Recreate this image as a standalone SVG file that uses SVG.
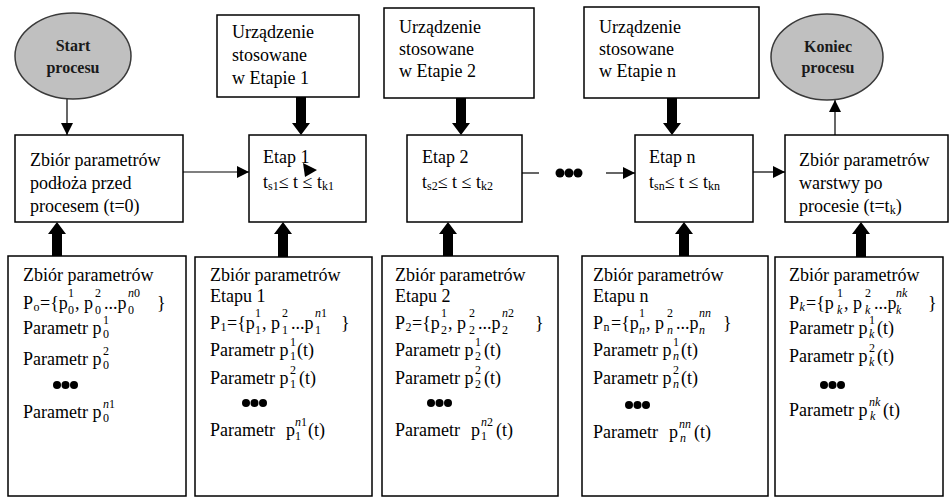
<svg xmlns="http://www.w3.org/2000/svg" width="949" height="497" viewBox="0 0 949 497" font-family="'Liberation Serif', 'DejaVu Serif', serif">
  <style>
    text { font-family: "Liberation Serif", "DejaVu Serif", serif; font-size: 18px; fill: #000; }
    .s { font-size: 12px; }
    .i { font-style: italic; }
    .b { font-weight: bold; font-size: 16px; text-anchor: middle; fill: #1a1a1a; }
    .box { fill: #fff; stroke: #000; stroke-width: 1.5; }
    .oval { fill: #c0c0c0; stroke: #3a3a3a; stroke-width: 1.5; }
    .thin { fill: none; stroke: #000; stroke-width: 1.2; }
    .thick { fill: #000; }
    .dot { fill: #000; }
  </style>
  <defs>
    <marker id="ah" viewBox="0 0 12 12" refX="12" refY="6" markerWidth="12" markerHeight="12" orient="auto" markerUnits="userSpaceOnUse">
      <path d="M0,0 L12,6 L0,12 z" fill="#000"/>
    </marker>
  </defs>

  <rect width="949" height="497" fill="#fff"/>

  <!-- connectors -->
  <g id="connectors">
    <!-- thin flow arrows -->
    <line class="thin" x1="67" y1="99" x2="67" y2="135" marker-end="url(#ah)"/>
    <line class="thin" x1="183" y1="172" x2="249" y2="172" marker-end="url(#ah)"/>
    <line class="thin" x1="522" y1="173" x2="539" y2="173"/>
    <line class="thin" x1="606" y1="173" x2="635" y2="173" marker-end="url(#ah)"/>
    <line class="thin" x1="753" y1="172" x2="785" y2="172" marker-end="url(#ah)"/>
    <line class="thin" x1="835" y1="135" x2="835" y2="100" marker-end="url(#ah)"/>
    <!-- ellipsis between stage 2 and stage n -->
    <circle class="dot" cx="560" cy="173" r="4.5"/>
    <circle class="dot" cx="569" cy="173" r="4.5"/>
    <circle class="dot" cx="578" cy="173" r="4.5"/>
    <!-- thick arrows: equipment -> stage -->
    <path class="thick" d="M296,97 H306 V123 H310 L301,135 L292,123 H296 Z"/>
    <path class="thick" d="M456,98 H466 V123 H470 L461,135 L452,123 H456 Z"/>
    <path class="thick" d="M667,98 H677 V123 H681 L672,135 L663,123 H667 Z"/>
    <!-- thick arrows: parameter sets -> stage -->
    <path class="thick" d="M52,256 H62 V234 H66 L57,222 L48,234 H52 Z"/>
    <path class="thick" d="M278,257 H288 V234 H292 L283,222 L274,234 H278 Z"/>
    <path class="thick" d="M443,256 H453 V234 H457 L448,222 L439,234 H443 Z"/>
    <path class="thick" d="M679,256 H689 V234 H693 L684,222 L675,234 H679 Z"/>
    <path class="thick" d="M856,257 H866 V234 H870 L861,222 L852,234 H856 Z"/>
  </g>

  <!-- start / end -->
  <g id="start">
    <ellipse class="oval" cx="73" cy="56" rx="58" ry="43"/>
    <text class="b" x="73" y="51">Start</text>
    <text class="b" x="73" y="73">procesu</text>
  </g>
  <g id="end">
    <ellipse class="oval" cx="827" cy="57" rx="56" ry="43"/>
    <text class="b" x="828" y="52">Koniec</text>
    <text class="b" x="828" y="73">procesu</text>
  </g>

  <!-- initial substrate parameters -->
  <g id="substrate">
    <rect class="box" x="15" y="135" width="168" height="87"/>
    <text x="30" y="166">Zbiór parametrów</text>
    <text x="30" y="189">podłoża przed</text>
    <text x="30" y="212">procesem (t=0)</text>
  </g>

  <!-- equipment boxes -->
  <g id="device1">
    <rect class="box" x="217" y="15" width="142" height="82"/>
    <text x="232" y="38">Urządzenie</text>
    <text x="232" y="61">stosowane</text>
    <text x="232" y="84">w Etapie 1</text>
  </g>
  <g id="device2">
    <rect class="box" x="384" y="8" width="150" height="90"/>
    <text x="399" y="33">Urządzenie</text>
    <text x="399" y="55">stosowane</text>
    <text x="399" y="77">w Etapie 2</text>
  </g>
  <g id="deviceN">
    <rect class="box" x="584" y="7" width="175" height="91"/>
    <text x="599" y="33">Urządzenie</text>
    <text x="599" y="55">stosowane</text>
    <text x="599" y="77">w Etapie n</text>
  </g>

  <!-- stages -->
  <g id="stage1">
    <rect class="box" x="249" y="135" width="117" height="87"/>
    <text x="263" y="163">Etap 1</text>
    <text x="263" y="188">t<tspan class="s" dy="2">s1</tspan><tspan dy="-2">≤ t ≤ t</tspan><tspan class="s" dy="2">k1</tspan></text>
    <path d="M303,163 L317,170 L305,177 Z" fill="#000"/>
  </g>
  <g id="stage2">
    <rect class="box" x="407" y="135" width="115" height="87"/>
    <text x="422" y="163">Etap 2</text>
    <text x="422" y="188">t<tspan class="s" dy="2">s2</tspan><tspan dy="-2">≤ t ≤ t</tspan><tspan class="s" dy="2">k2</tspan></text>
  </g>
  <g id="stageN">
    <rect class="box" x="635" y="135" width="118" height="87"/>
    <text x="649" y="163">Etap n</text>
    <text x="649" y="188">t<tspan class="s" dy="2">sn</tspan><tspan dy="-2">≤ t ≤ t</tspan><tspan class="s" dy="2">kn</tspan></text>
  </g>

  <!-- final layer parameters -->
  <g id="layer">
    <rect class="box" x="785" y="135" width="163" height="87"/>
    <text x="799" y="166">Zbiór parametrów</text>
    <text x="799" y="189">warstwy po</text>
    <text x="799" y="212">procesie (t=t<tspan class="s" dy="2">k</tspan><tspan dy="-2">)</tspan></text>
  </g>

  <!-- parameter set: substrate -->
  <g id="params0">
    <rect class="box" x="8" y="256" width="178" height="240"/>
    <text x="23" y="281">Zbiór parametrów</text>
    <text><tspan x="23" y="309">P</tspan><tspan class="s" x="33.5" y="311">o</tspan><tspan x="40" y="309">={p</tspan><tspan class="s" x="68" y="297">1</tspan><tspan class="s" x="68" y="314">0</tspan><tspan x="75" y="309">, p</tspan><tspan class="s" x="95" y="297">2</tspan><tspan class="s" x="95" y="314">0</tspan><tspan x="104" y="309">...p</tspan><tspan class="s i" x="128" y="297">n</tspan><tspan class="s" x="134" y="297">0</tspan><tspan class="s" x="128" y="314">0</tspan><tspan x="157" y="309">}</tspan></text>
    <text><tspan x="23" y="334">Parametr p</tspan><tspan class="s" x="103" y="324">1</tspan><tspan class="s" x="103" y="338">0</tspan></text>
    <text><tspan x="23" y="365">Parametr p</tspan><tspan class="s" x="103" y="355">2</tspan><tspan class="s" x="103" y="369">0</tspan></text>
    <circle class="dot" cx="57" cy="385" r="4"/><circle class="dot" cx="65.5" cy="385" r="4"/><circle class="dot" cx="74" cy="385" r="4"/>
    <text><tspan x="23" y="418">Parametr p</tspan><tspan class="s i" x="103" y="408">n</tspan><tspan class="s" x="109" y="408">1</tspan><tspan class="s" x="103" y="422">0</tspan></text>
  </g>

  <!-- parameter set: stage 1 -->
  <g id="params1">
    <rect class="box" x="195" y="257" width="177" height="239"/>
    <text x="210" y="281">Zbiór parametrów</text>
    <text x="210" y="302">Etapu 1</text>
    <text><tspan x="210" y="329">P</tspan><tspan class="s" x="220.5" y="331">1</tspan><tspan x="227" y="329">={p</tspan><tspan class="s" x="255" y="317">1</tspan><tspan class="s" x="255" y="334">1</tspan><tspan x="262" y="329">, p</tspan><tspan class="s" x="282" y="317">2</tspan><tspan class="s" x="282" y="334">1</tspan><tspan x="291" y="329">...p</tspan><tspan class="s i" x="315" y="317">n</tspan><tspan class="s" x="321" y="317">1</tspan><tspan class="s" x="315" y="334">1</tspan><tspan x="341" y="329">}</tspan></text>
    <text><tspan x="210" y="356">Parametr p</tspan><tspan class="s" x="290" y="346">1</tspan><tspan class="s" x="290" y="360">1</tspan><tspan x="297" y="356">(t)</tspan></text>
    <text><tspan x="210" y="384">Parametr p</tspan><tspan class="s" x="290" y="374">2</tspan><tspan class="s" x="290" y="388">1</tspan><tspan x="299" y="384">(t)</tspan></text>
    <circle class="dot" cx="246" cy="403" r="4"/><circle class="dot" cx="254.5" cy="403" r="4"/><circle class="dot" cx="263" cy="403" r="4"/>
    <text><tspan x="210" y="436">Parametr</tspan><tspan x="286" y="436">p</tspan><tspan class="s i" x="295" y="426">n</tspan><tspan class="s" x="301" y="426">1</tspan><tspan class="s" x="295" y="440">1</tspan><tspan x="308" y="436">(t)</tspan></text>
  </g>

  <!-- parameter set: stage 2 -->
  <g id="params2">
    <rect class="box" x="382" y="256" width="176" height="240"/>
    <text x="395" y="281">Zbiór parametrów</text>
    <text x="395" y="302">Etapu 2</text>
    <text><tspan x="395" y="329">P</tspan><tspan class="s" x="405.5" y="331">2</tspan><tspan x="412" y="329">={p</tspan><tspan class="s" x="441" y="317">1</tspan><tspan class="s" x="441" y="334">2</tspan><tspan x="448" y="329">, p</tspan><tspan class="s" x="469" y="317">2</tspan><tspan class="s" x="469" y="334">2</tspan><tspan x="478" y="329">...p</tspan><tspan class="s i" x="502" y="317">n</tspan><tspan class="s" x="508" y="317">2</tspan><tspan class="s" x="502" y="334">2</tspan><tspan x="535" y="329">}</tspan></text>
    <text><tspan x="395" y="356">Parametr p</tspan><tspan class="s" x="475" y="346">1</tspan><tspan class="s" x="475" y="360">2</tspan><tspan x="484" y="356">(t)</tspan></text>
    <text><tspan x="395" y="384">Parametr p</tspan><tspan class="s" x="475" y="374">2</tspan><tspan class="s" x="475" y="388">2</tspan><tspan x="484" y="384">(t)</tspan></text>
    <circle class="dot" cx="431" cy="403" r="4"/><circle class="dot" cx="439.5" cy="403" r="4"/><circle class="dot" cx="448" cy="403" r="4"/>
    <text><tspan x="395" y="436">Parametr</tspan><tspan x="471" y="436">p</tspan><tspan class="s i" x="481" y="426">n</tspan><tspan class="s" x="487" y="426">2</tspan><tspan class="s" x="481" y="440">1</tspan><tspan x="496" y="436">(t)</tspan></text>
  </g>

  <!-- parameter set: stage n -->
  <g id="paramsN">
    <rect class="box" x="582" y="256" width="186" height="240"/>
    <text x="593" y="281">Zbiór parametrów</text>
    <text x="593" y="302">Etapu n</text>
    <text><tspan x="593" y="329">P</tspan><tspan class="s" x="603.5" y="331">n</tspan><tspan x="611" y="329">={p</tspan><tspan class="s" x="639" y="317">1</tspan><tspan class="s i" x="639" y="334">n</tspan><tspan x="646" y="329">, p</tspan><tspan class="s" x="667" y="317">2</tspan><tspan class="s i" x="667" y="334">n</tspan><tspan x="676" y="329">...p</tspan><tspan class="s i" x="699" y="317">nn</tspan><tspan class="s i" x="699" y="334">n</tspan><tspan x="723" y="329">}</tspan></text>
    <text><tspan x="593" y="356">Parametr p</tspan><tspan class="s" x="673" y="346">1</tspan><tspan class="s i" x="673" y="360">n</tspan><tspan x="681" y="356">(t)</tspan></text>
    <text><tspan x="593" y="384">Parametr p</tspan><tspan class="s" x="673" y="374">2</tspan><tspan class="s i" x="673" y="388">n</tspan><tspan x="681" y="384">(t)</tspan></text>
    <circle class="dot" cx="629" cy="405" r="4"/><circle class="dot" cx="637.5" cy="405" r="4"/><circle class="dot" cx="646" cy="405" r="4"/>
    <text><tspan x="593" y="438">Parametr</tspan><tspan x="669" y="438">p</tspan><tspan class="s i" x="679" y="428">nn</tspan><tspan class="s i" x="680" y="442">n</tspan><tspan x="694" y="438">(t)</tspan></text>
  </g>

  <!-- parameter set: final layer -->
  <g id="paramsK">
    <rect class="box" x="775" y="257" width="168" height="239"/>
    <text x="789" y="281">Zbiór parametrów</text>
    <text><tspan x="789" y="309">P</tspan><tspan class="s i" x="799.5" y="311">k</tspan><tspan x="806" y="309">={p</tspan><tspan class="s" x="837" y="297">1</tspan><tspan class="s i" x="837" y="314">k</tspan><tspan x="844" y="309">, p</tspan><tspan class="s" x="865" y="297">2</tspan><tspan class="s i" x="865" y="314">k</tspan><tspan x="874" y="309">...p</tspan><tspan class="s i" x="896" y="297">nk</tspan><tspan class="s i" x="896" y="314">k</tspan><tspan x="928" y="309">}</tspan></text>
    <text><tspan x="789" y="334">Parametr p</tspan><tspan class="s" x="869" y="324">1</tspan><tspan class="s i" x="869" y="338">k</tspan><tspan x="877" y="334">(t)</tspan></text>
    <text><tspan x="789" y="362">Parametr p</tspan><tspan class="s" x="869" y="352">2</tspan><tspan class="s i" x="869" y="366">k</tspan><tspan x="877" y="362">(t)</tspan></text>
    <circle class="dot" cx="824" cy="385" r="4"/><circle class="dot" cx="832.5" cy="385" r="4"/><circle class="dot" cx="841" cy="385" r="4"/>
    <text><tspan x="789" y="416">Parametr p</tspan><tspan class="s i" x="869" y="406">nk</tspan><tspan class="s i" x="870" y="420">k</tspan><tspan x="883" y="416">(t)</tspan></text>
  </g>
</svg>
